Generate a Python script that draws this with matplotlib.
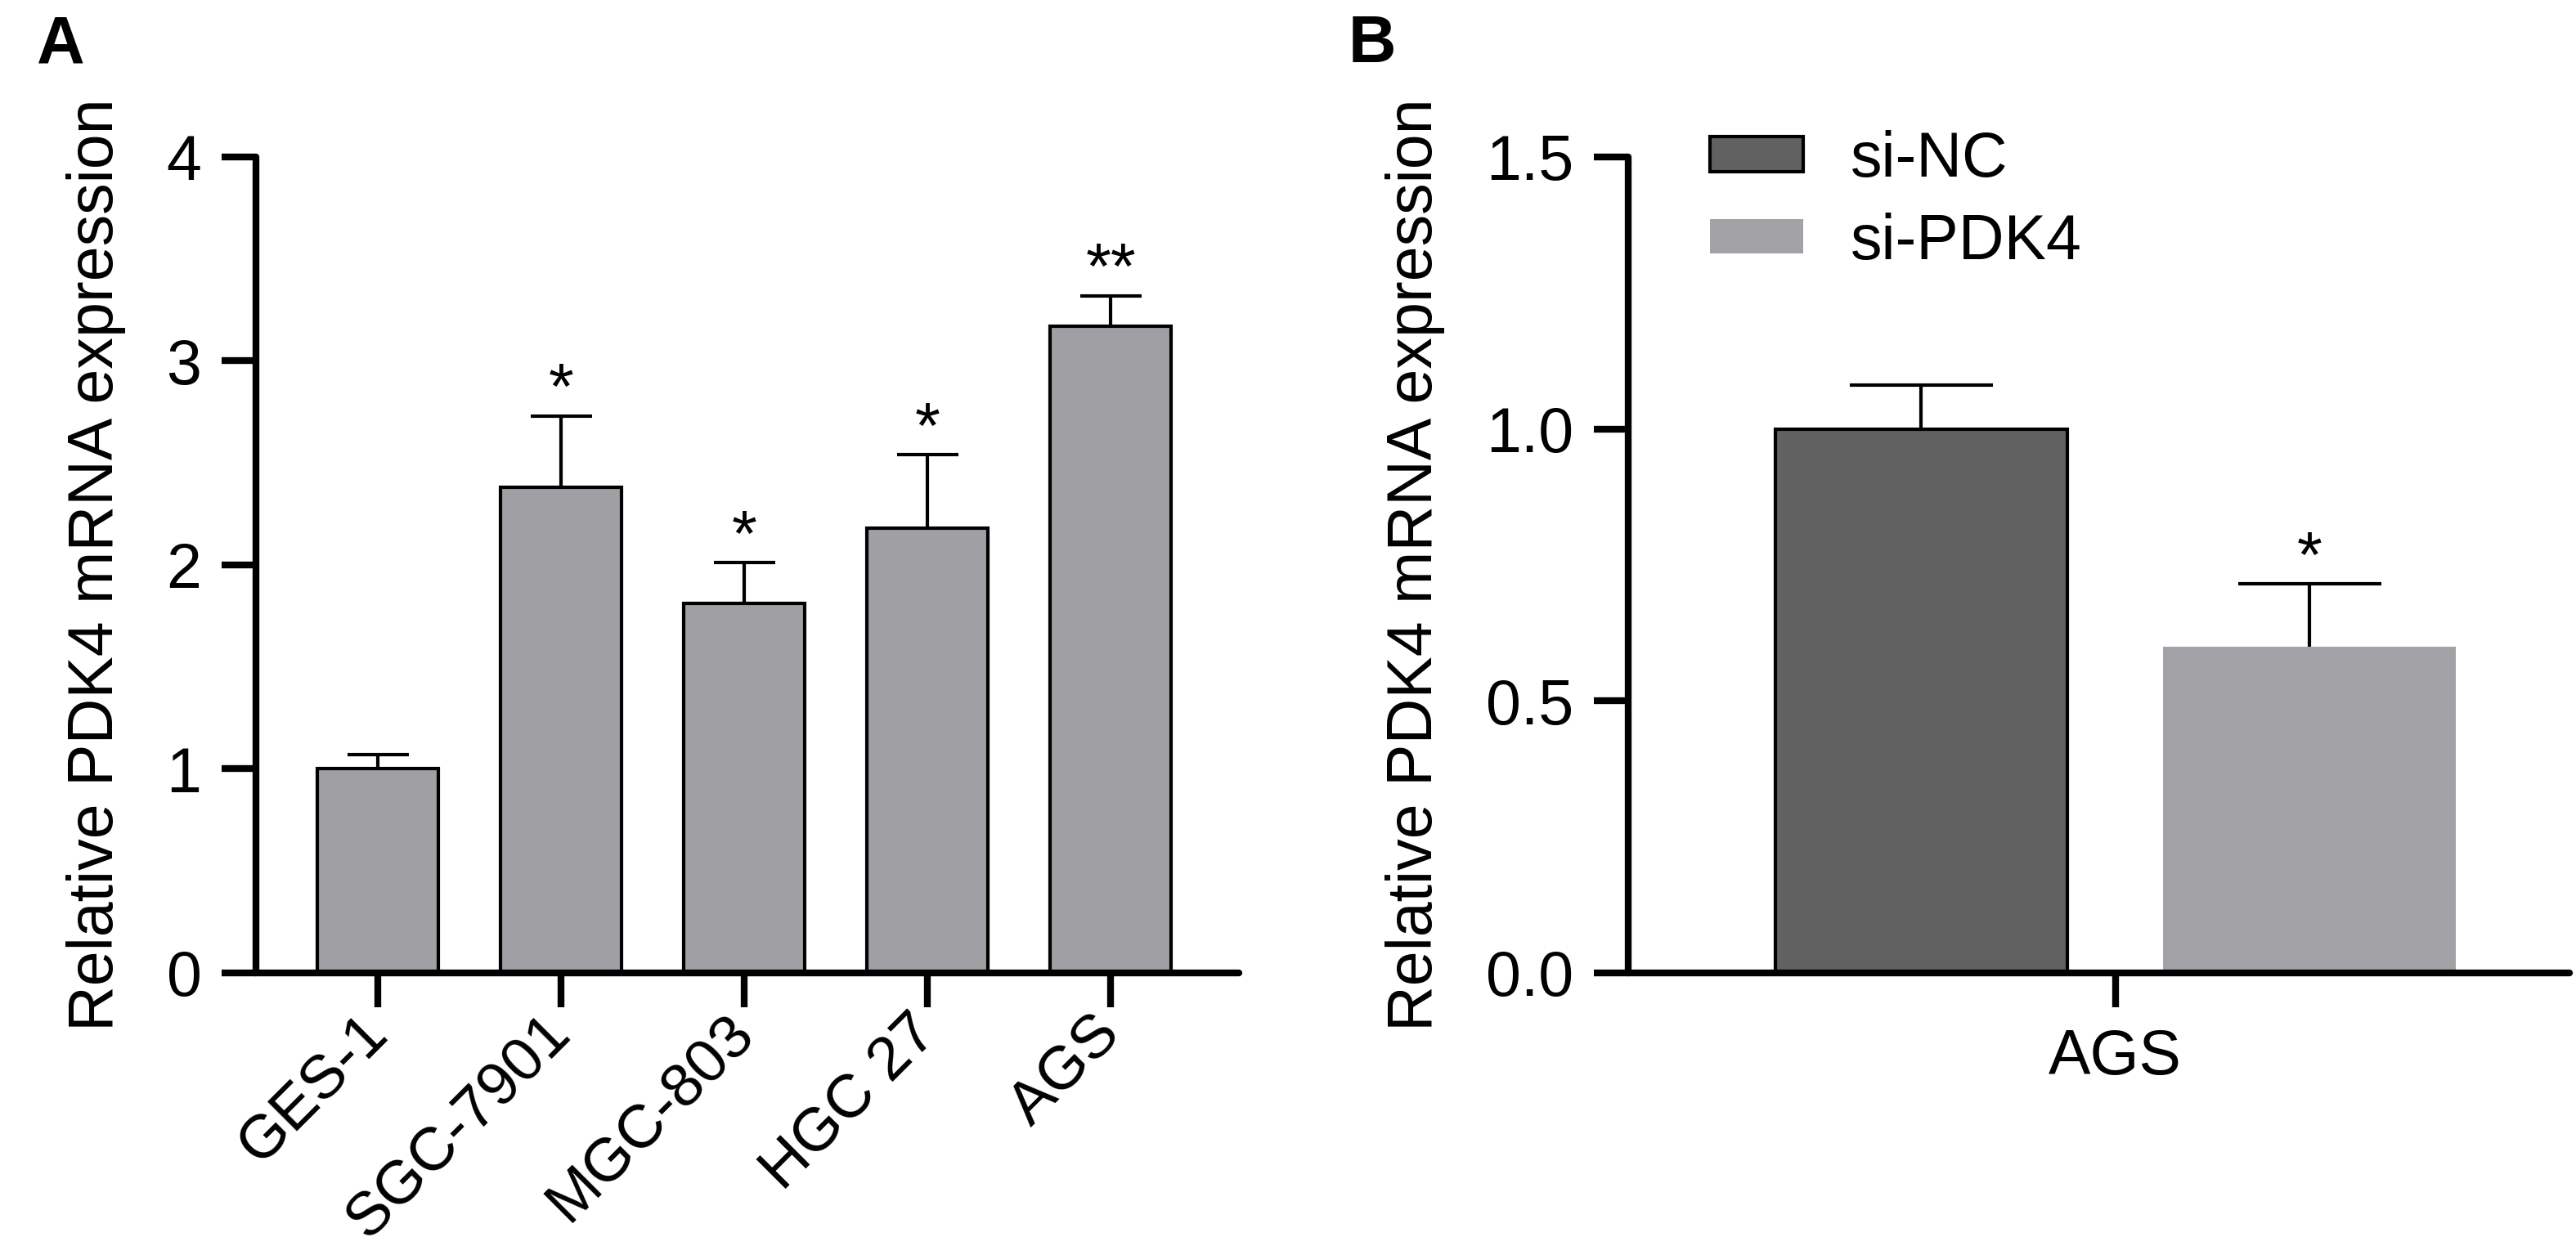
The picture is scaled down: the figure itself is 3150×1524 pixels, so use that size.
import matplotlib
matplotlib.use("Agg")
import matplotlib.pyplot as plt
import numpy as np

matplotlib.rcParams.update({
    "font.family": ["Liberation Sans", "DejaVu Sans"],
    "font.size": 18.5,
    "axes.linewidth": 2.0,
    "xtick.major.width": 2.0,
    "ytick.major.width": 2.0,
    "xtick.major.size": 10,
    "ytick.major.size": 10,
})

# panel A: PDK4 expression across cell lines
cell_lines = ["GES-1", "SGC-7901", "MGC-803", "HGC 27", "AGS"]
expr_means = [1.0, 2.38, 1.81, 2.18, 3.17]
expr_err = [0.07, 0.35, 0.20, 0.36, 0.15]
expr_sig = ["", "*", "*", "*", "**"]

# panel B: knockdown in AGS
groups = ["si-NC", "si-PDK4"]
knock_means = [1.0, 0.60]
knock_err = [0.08, 0.115]
knock_sig = ["", "*"]
knock_colors = ["#616161", "#a3a3a7"]

BAR_GREY = "#a0a0a4"


def style_axes(ax):
    for side in ["top", "right"]:
        ax.spines[side].set_visible(False)
    for side in ["left", "bottom"]:
        ax.spines[side].set_capstyle("round")
    ax.tick_params(axis="both", direction="out", length=10, width=2.0, pad=6)


def draw_errors(ax, x, means, errs, capsize):
    err = np.vstack([np.zeros(len(errs)), errs])
    _, caps, _ = ax.errorbar(x, means, yerr=err, fmt="none", ecolor="black",
                             elinewidth=1.0, capsize=capsize, capthick=1.0, zorder=1)
    caps[0].set_visible(False)  # only the upper whisker


def draw_stars(ax, x, means, errs, marks):
    for xi, m, e, s in zip(x, means, errs, marks):
        if s:
            ax.annotate(s, (xi, m + e), xytext=(0, 2), textcoords="offset points",
                        ha="center", va="baseline", fontsize=19)


fig = plt.figure(figsize=(10.5, 5.08), dpi=300)
axA = fig.add_axes([0.0994, 0.2192, 0.3816, 0.6549])
axB = fig.add_axes([0.6321, 0.2192, 0.3654, 0.6549])

# --- A ---
xA = np.arange(len(cell_lines))
axA.bar(xA, expr_means, width=0.66, color=BAR_GREY, edgecolor="black",
        linewidth=1.0, zorder=2)
draw_errors(axA, xA, expr_means, expr_err, capsize=9)
draw_stars(axA, xA, expr_means, expr_err, expr_sig)
axA.set_xlim(-0.665, 4.70)
axA.set_ylim(0, 4)
axA.set_yticks([0, 1, 2, 3, 4])
axA.set_xticks(xA)
axA.set_xticklabels(cell_lines, rotation=45, ha="right", va="center",
                    rotation_mode="anchor", fontsize=18)
axA.set_ylabel("Relative PDK4 mRNA expression", labelpad=12)
style_axes(axA)
axA.tick_params(axis="x", pad=5)

# --- B ---
xB = np.arange(len(groups))
edges = ["black", "none"]
for x, m, c, ec, g in zip(xB, knock_means, knock_colors, edges, groups):
    axB.bar(x, m, width=0.752, color=c, edgecolor=ec, linewidth=1.0,
            zorder=2, label=g)
draw_errors(axB, xB, knock_means, knock_err, capsize=21)
draw_stars(axB, xB, knock_means, knock_err, knock_sig)
axB.set_xlim(-0.754, 1.67)
axB.set_ylim(0, 1.5)
axB.set_yticks([0.0, 0.5, 1.0, 1.5])
axB.set_yticklabels(["0.0", "0.5", "1.0", "1.5"])
axB.set_xticks([xB.mean()])
axB.set_xticklabels(["AGS"])
axB.set_ylabel("Relative PDK4 mRNA expression", labelpad=12)
style_axes(axB)
axB.legend(loc="upper left", bbox_to_anchor=(0.087, 1.033), frameon=False,
           borderpad=0, borderaxespad=0, handlelength=1.48, handleheight=0.47,
           handletextpad=0.75, labelspacing=0.36)

fig.text(0.0143, 0.950, "A", fontsize=19.5, fontweight="bold", va="baseline")
fig.text(0.5235, 0.950, "B", fontsize=19.5, fontweight="bold", va="baseline")

fig.savefig("out.png", dpi=300)
